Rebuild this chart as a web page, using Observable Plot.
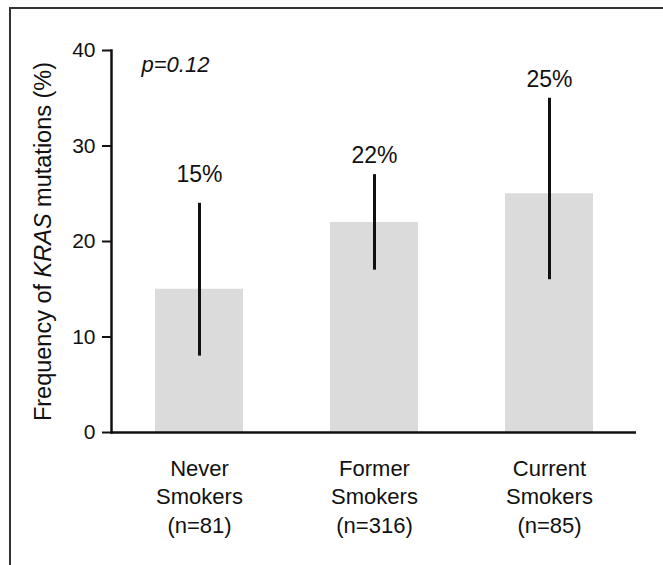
<!DOCTYPE html>
<html>
<head>
<meta charset="utf-8">
<script src="https://cdn.jsdelivr.net/npm/d3@7"></script>
<script src="https://cdn.jsdelivr.net/npm/@observablehq/plot@0.6"></script>
<style>
  html, body { margin: 0; padding: 0; background: #fff; overflow: hidden; }
  #wrap { position: relative; width: 663px; height: 565px; overflow: hidden; }
  #border { position: absolute; left: 9px; top: 7px; width: 700px; height: 620px; border: 2px solid #333; box-sizing: border-box; pointer-events: none; }
  svg { font-family: "Liberation Sans", Arial, Helvetica, sans-serif; }
</style>
</head>
<body>
<div id="wrap"><div id="border"></div></div>
<script>
const categories = ["Never", "Former", "Current"];
const tickLabels = ["Never\nSmokers\n(n=81)", "Former\nSmokers\n(n=316)", "Current\nSmokers\n(n=85)"];
const frequency = [15, 22, 25];
const ciLow = [8, 17, 16];
const ciHigh = [24, 27, 35];
const valueLabels = ["15%", "22%", "25%"];
const yTicks = [0, 10, 20, 30, 40];
const annotation = ["p=0.12"];

const data = categories.map((c, i) => ({
  cat: c, value: frequency[i], lo: ciLow[i], hi: ciHigh[i], label: valueLabels[i]
}));

const chart = Plot.plot({
  width: 663,
  height: 565,
  marginLeft: 111,
  marginRight: 27,
  marginTop: 50,
  marginBottom: 133,
  style: { background: "transparent", color: "#111", fontFamily: "'Liberation Sans', Arial, sans-serif" },
  x: { domain: categories, padding: 0.5, paddingOuter: 0.25, align: 0.5 },
  y: { domain: [0, 40] },
  marks: [
    Plot.barY(data, { x: "cat", y: "value", fill: "#dbdbdb" }),
    Plot.ruleX(data, { x: "cat", y1: "lo", y2: "hi", stroke: "#111", strokeWidth: 3 }),
    Plot.text(data.slice(0, 1), { x: "cat", y: "hi", text: "label", dy: -29, fontSize: 23, fill: "#111" }),
    Plot.text(data.slice(1), { x: "cat", y: "hi", text: "label", dy: -19, fontSize: 23, fill: "#111" }),
    Plot.text(annotation, { frameAnchor: "top-left", text: d => d, textAnchor: "start", lineAnchor: "top", dx: 30, dy: 6, fontSize: 22, fontStyle: "italic", fill: "#111" }),
    Plot.ruleY([0], { stroke: "#111", strokeWidth: 2.5 }),
    Plot.frame({ anchor: "left", stroke: "#111", strokeWidth: 2.5 }),
    Plot.axisY({
      ticks: yTicks, tickSize: 9, tickPadding: 7, fontSize: 21, strokeWidth: 2,
      label: "Frequency of KRAS mutations (%)", labelAnchor: "center", labelArrow: "none", labelOffset: 77
    }),
    Plot.axisX({
      tickSize: 0, tickPadding: 23, fontSize: 22, lineHeight: 1.3,
      tickFormat: (d) => tickLabels[categories.indexOf(d)], label: null
    })
  ]
});

document.getElementById("wrap").prepend(chart);

// Italicize "KRAS" in the y-axis label
d3.select(chart).selectAll("text").each(function () {
  if (this.textContent === "Frequency of KRAS mutations (%)") {
    this.textContent = "";
    const sel = d3.select(this);
    sel.attr("font-size", 23.5);
    sel.append("tspan").text("Frequency of ");
    sel.append("tspan").attr("font-style", "italic").text("KRAS");
    sel.append("tspan").text(" mutations (%)");
  }
});
</script>
</body>
</html>
